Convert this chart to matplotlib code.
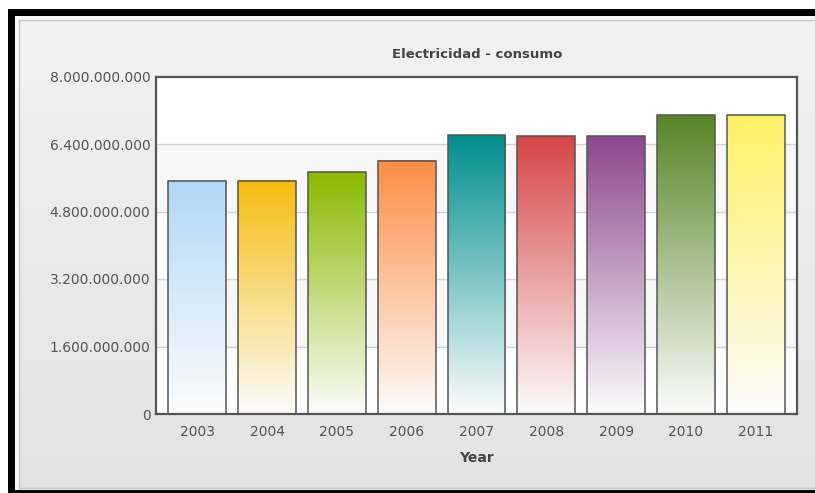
import numpy as np
import matplotlib
matplotlib.use("Agg")
import matplotlib.pyplot as plt
from matplotlib.patches import Rectangle
from matplotlib.colors import to_rgb
from matplotlib.ticker import FuncFormatter

# data
years = ["2003", "2004", "2005", "2006", "2007", "2008", "2009", "2010", "2011"]
consumo = [5.53e9, 5.53e9, 5.73e9, 6.00e9, 6.61e9, 6.58e9, 6.58e9, 7.08e9, 7.08e9]
colores = ["#afd8f8", "#f6bd0f", "#8bba00", "#ff8e46", "#008e8e",
           "#d64646", "#8e468e", "#588526", "#fff064"]
y_ticks = [0, 1.6e9, 3.2e9, 4.8e9, 6.4e9, 8.0e9]

W, H = 815, 493
fig = plt.figure(figsize=(W / 100, H / 100), dpi=100)
fig.patch.set_facecolor("white")


# pixel helpers (origin top-left like the screenshot)
def box(x0, y0, x1, y1):
    return [x0 / W, 1 - y1 / H, (x1 - x0) / W, (y1 - y0) / H]


def rect(x0, y0, x1, y1, **kw):
    b = box(x0, y0, x1, y1)
    fig.add_artist(Rectangle((b[0], b[1]), b[2], b[3], transform=fig.transFigure,
                             zorder=-10, **kw))


# black frame and panel around the chart
rect(8, 9, 830, 500, facecolor="black", edgecolor="none")
rect(15, 16, 830, 490, facecolor="#fafafa", edgecolor="none")

bg = fig.add_axes(box(19, 20, 818, 488))
top_c = np.array(to_rgb("#f2f2f2"))
bot_c = np.array(to_rgb("#e3e3e3"))
t = np.linspace(0, 1, 200)[:, None, None]
bg.imshow(top_c * (1 - t) + bot_c * t, aspect="auto", extent=[0, 1, 0, 1], origin="upper")
bg.set_xticks([])
bg.set_yticks([])
for s in bg.spines.values():
    s.set_color("#c4c4c4")
    s.set_linewidth(1)

# main plot area
ax = fig.add_axes(box(156, 76.5, 797, 414))
x = np.arange(len(years))
width = 0.83

for i in range(5):
    band = "#f7f7f7" if i % 2 == 1 else "white"
    ax.axhspan(y_ticks[i], y_ticks[i + 1], color=band, zorder=0, lw=0)
for v in y_ticks[1:-1]:
    ax.axhline(v, color="#d2d2d2", lw=1, zorder=1)

# gradient bars: solid colour on top fading to white at the base
white = np.array(to_rgb("#fcfcfc"))
for xi, val, c in zip(x, consumo, colores):
    cc = np.array(to_rgb(c))
    g = cc * (1 - t) + white * t
    ax.imshow(g, aspect="auto", origin="upper", zorder=2,
              extent=[xi - width / 2, xi + width / 2, 0, val])
ax.bar(x, consumo, width=width, facecolor="none", edgecolor="#555555", lw=1.1, zorder=3)

ax.set_xlim(-0.59, len(years) - 1 + 0.59)
ax.set_ylim(0, 8e9)
ax.set_xticks(x)
ax.set_xticklabels(years)
ax.set_yticks(y_ticks)
ax.yaxis.set_major_formatter(FuncFormatter(lambda v, p: f"{int(round(v)):,}".replace(",", ".")))
ax.tick_params(axis="both", length=0, labelsize=10, labelcolor="#555555")
ax.tick_params(axis="x", pad=8)
ax.tick_params(axis="y", pad=4)
for s in ax.spines.values():
    s.set_color("#555555")
    s.set_linewidth(1.6)
    s.set_zorder(5)

fig.text(477 / W, 1 - 54 / H, "Electricidad - consumo", ha="center", va="center",
         fontsize=9.5, fontweight="bold", color="#444444")
fig.text(476 / W, 1 - 458 / H, "Year", ha="center", va="center",
         fontsize=10, fontweight="bold", color="#444444")

fig.savefig("out.png", dpi=100)
